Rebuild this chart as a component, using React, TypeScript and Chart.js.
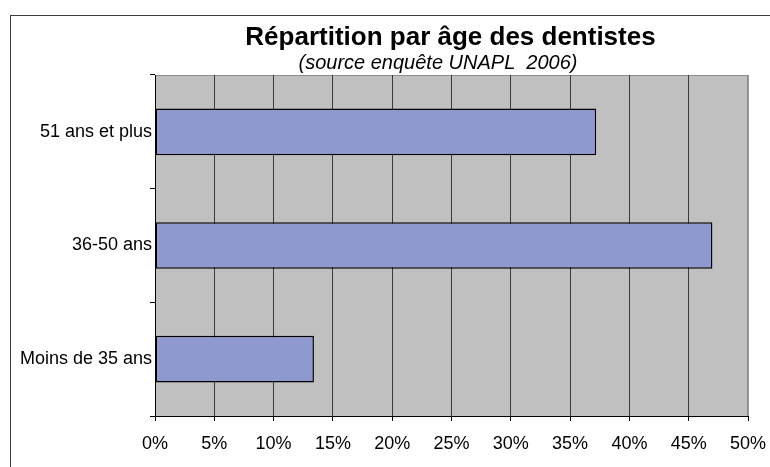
import React, { useEffect, useRef } from "react";
import { Chart, registerables } from "chart.js";

Chart.register(...registerables);

const categories: string[] = ["51 ans et plus", "36-50 ans", "Moins de 35 ans"];
const shares: number[] = [37.2, 47.0, 13.4];
const tickValues: number[] = [0, 5, 10, 15, 20, 25, 30, 35, 40, 45, 50];
const titleText = "Répartition par âge des dentistes";
const subtitleText = "(source enquête UNAPL  2006)";

const FONT = "'Liberation Sans', Arial, Helvetica, sans-serif";

const decorPlugin = {
  id: "decor",
  beforeDraw(chart: any) {
    const { ctx, chartArea } = chart;
    ctx.save();
    ctx.fillStyle = "#ffffff";
    ctx.fillRect(0, 0, chart.width, chart.height);
    // outer frame
    ctx.strokeStyle = "#3c3c3c";
    ctx.lineWidth = 1;
    ctx.strokeRect(10.5, 15.5, 800, 500);
    // plot area background
    ctx.fillStyle = "#c0c0c0";
    ctx.fillRect(chartArea.left, chartArea.top, chartArea.right - chartArea.left, chartArea.bottom - chartArea.top);
    ctx.strokeStyle = "#8c8c8c";
    ctx.strokeRect(chartArea.left + 0.5, chartArea.top + 0.5, chartArea.right - chartArea.left - 1, chartArea.bottom - chartArea.top);
    // titles
    ctx.fillStyle = "#000000";
    ctx.textAlign = "center";
    ctx.textBaseline = "alphabetic";
    ctx.font = `bold 26px ${FONT}`;
    ctx.fillText(titleText, 450.5, 45);
    ctx.font = `italic 20px ${FONT}`;
    ctx.fillText(subtitleText, 438, 69);
    ctx.restore();
  },
};

export default function App() {
  const ref = useRef<HTMLCanvasElement | null>(null);

  useEffect(() => {
    if (!ref.current) return;
    const chart = new Chart(ref.current, {
      type: "bar",
      data: {
        labels: categories,
        datasets: [
          {
            data: shares,
            backgroundColor: "#8e99cf",
            borderColor: "#000000",
            borderWidth: 1.5,
            borderSkipped: false,
            barPercentage: 0.41,
            categoryPercentage: 1,
          },
        ],
      },
      options: {
        indexAxis: "y",
        animation: false,
        responsive: false,
        devicePixelRatio: 1,
        layout: { padding: { top: 75, right: 22, left: 0, bottom: 0 } },
        plugins: {
          legend: { display: false },
          tooltip: { enabled: false },
          title: { display: false },
        },
        scales: {
          x: {
            type: "linear",
            position: "bottom",
            min: 0,
            max: 50,
            afterBuildTicks: (scale: any) => {
              scale.ticks = tickValues.map((v) => ({ value: v }));
            },
            afterFit: (scale: any) => {
              scale.height = 51;
              scale.paddingLeft = 0;
              scale.paddingRight = 0;
            },
            ticks: {
              callback: (v: any) => `${v}%`,
              color: "#000000",
              font: { family: FONT, size: 18 },
              padding: 12,
              maxRotation: 0,
              autoSkip: false,
            },
            grid: {
              color: (c: any) => (c.tick && c.tick.value === 50 ? "#9a9a9a" : "#3a3a3a"),
              tickColor: "#000000",
              lineWidth: 1,
              tickLength: 5,
              drawTicks: true,
            },
            border: { display: true, color: "#000000", width: 1 },
          },
          y: {
            type: "category",
            position: "left",
            offset: true,
            afterFit: (scale: any) => {
              scale.width = 155;
              scale.paddingTop = 0;
              scale.paddingBottom = 0;
            },
            ticks: {
              color: "#000000",
              font: { family: FONT, size: 18 },
              padding: -2,
              autoSkip: false,
            },
            grid: {
              offset: true,
              drawOnChartArea: false,
              drawTicks: true,
              tickLength: 5,
              tickColor: "#000000",
              color: "#000000",
            },
            border: { display: true, color: "#000000", width: 1 },
          },
        },
      },
      plugins: [decorPlugin],
    } as any);
    return () => chart.destroy();
  }, []);

  return (
    <div style={{ position: "absolute", left: 0, top: 0, width: 770, height: 467, background: "#ffffff" }}>
      <canvas ref={ref} width={770} height={467} style={{ display: "block", width: 770, height: 467 }} />
    </div>
  );
}
